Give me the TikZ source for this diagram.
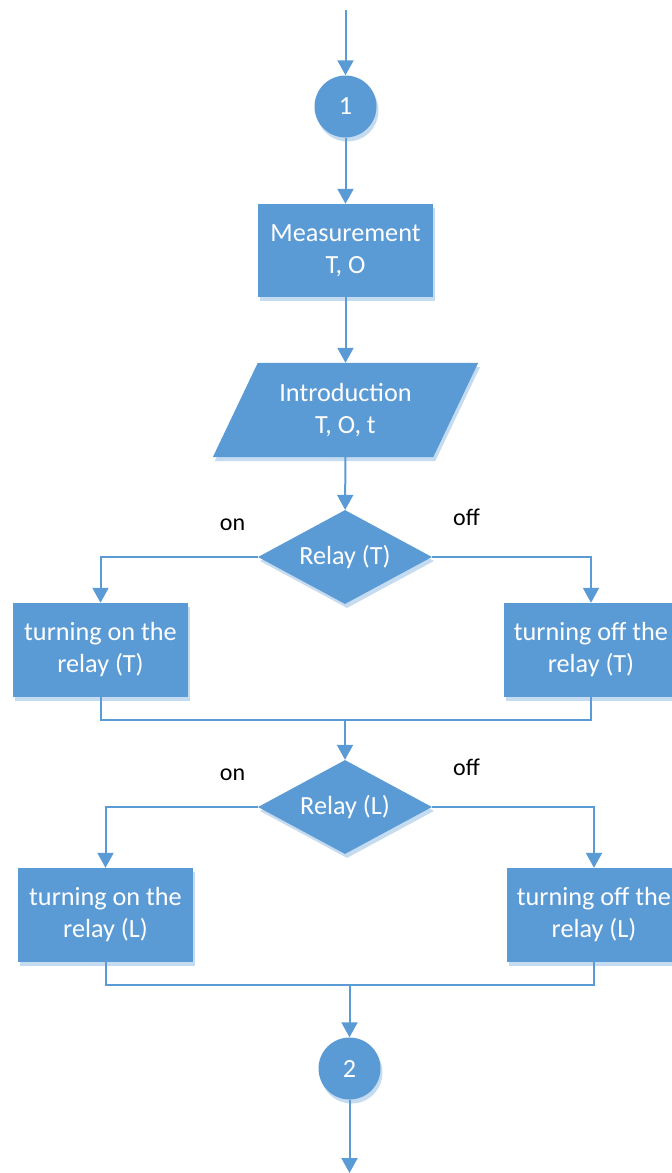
\documentclass[tikz,border=0pt]{standalone}
\usepackage{fontspec}
\setmainfont{Carlito}
\usetikzlibrary{shapes.geometric,arrows.meta,shadows,backgrounds}
\definecolor{fcblue}{HTML}{5B9BD5}
\definecolor{fcshadow}{HTML}{C5DBF0}
\begin{document}
\begin{tikzpicture}[x=1pt,y=-1pt,
  shad/.style={drop shadow={shadow xshift=2pt,shadow yshift=-4pt,fill=fcshadow,opacity=1}},
  procbox/.style={rectangle,fill=fcblue,shad,minimum width=175pt,minimum height=93pt,inner sep=0pt,align=center,text=white,font=\fontsize{26.2}{32}\selectfont},
  conn/.style={circle,fill=fcblue,shad,minimum size=62pt,inner sep=0pt,text=white,font=\fontsize{26.2}{32}\selectfont},
  decide/.style={diamond,aspect=1.85,fill=fcblue,shad,minimum width=174pt,minimum height=94pt,inner sep=0pt,text=white,font=\fontsize{26.2}{32}\selectfont},
  iotext/.style={rectangle,minimum width=175pt,minimum height=94pt,inner sep=0pt,align=center,text=white,font=\fontsize{26.2}{32}\selectfont},
  lbl/.style={anchor=base,text=black,font=\fontsize{24}{28}\selectfont},
  line/.style={draw=fcblue,line width=2pt},
  arr/.style={line,-{Triangle[width=16pt,length=15pt]}}]
\useasboundingbox (0,0) rectangle (672,1173);

\coordinate (start) at (345.5,10);
\node[conn] (c1) at (345.5,106.5) {1};
\node[procbox] (meas) at (345.5,250.5) {Measurement\\T, O};
\node[iotext] (intro) at (345.5,410) {Introduction\\T, O, t};
\begin{scope}[on background layer]
  \fill[fcshadow] ([shift={(2,4)}]intro.north west) -- ([shift={(47,4)}]intro.north east) -- ([shift={(2,4)}]intro.south east) -- ([shift={(-43,4)}]intro.south west) -- cycle;
  \fill[fcblue] (intro.north west) -- ([xshift=45pt]intro.north east) -- (intro.south east) -- ([xshift=-45pt]intro.south west) -- cycle;
\end{scope}
\node[decide] (dT) at (345,557) {Relay (T)};
\node[procbox,minimum height=94pt] (onT) at (100.5,650) {turning on the\\relay (T)};
\node[procbox,minimum height=94pt] (offT) at (591,650) {turning off the\\relay (T)};
\coordinate (j1) at (345,720);
\node[decide] (dL) at (345,807) {Relay (L)};
\node[procbox,minimum height=94pt] (onL) at (105.5,915) {turning on the\\relay (L)};
\node[procbox,minimum height=94pt] (offL) at (594,915) {turning off the\\relay (L)};
\coordinate (j2) at (349.5,985);
\node[conn] (c2) at (349.5,1068.5) {2};
\coordinate (stop) at (349.5,1173);

\node[lbl] (onTl) at (232.5,530) {on};
\node[lbl] (offTl) at (466.5,525) {off};
\node[lbl] (onLl) at (232.5,780) {on};
\node[lbl] (offLl) at (466.5,775) {off};

\draw[arr] (start) -- (c1);
\draw[arr] (c1) -- (meas);
\draw[arr] (meas) -- (intro);
\draw[arr] (intro) -- (dT);
\draw[arr] (dT.west) -| (onT.north);
\draw[arr] (dT.east) -| (offT.north);
\draw[line] (onT.south) |- (j1) -| (offT.south);
\draw[arr] (j1) -- (dL.north);
\draw[arr] (dL.west) -| (onL.north);
\draw[arr] (dL.east) -| (offL.north);
\draw[line] (onL.south) |- (j2) -| (offL.south);
\draw[arr] (j2) -- (c2);
\draw[arr] (c2) -- (stop);
\end{tikzpicture}
\end{document}
